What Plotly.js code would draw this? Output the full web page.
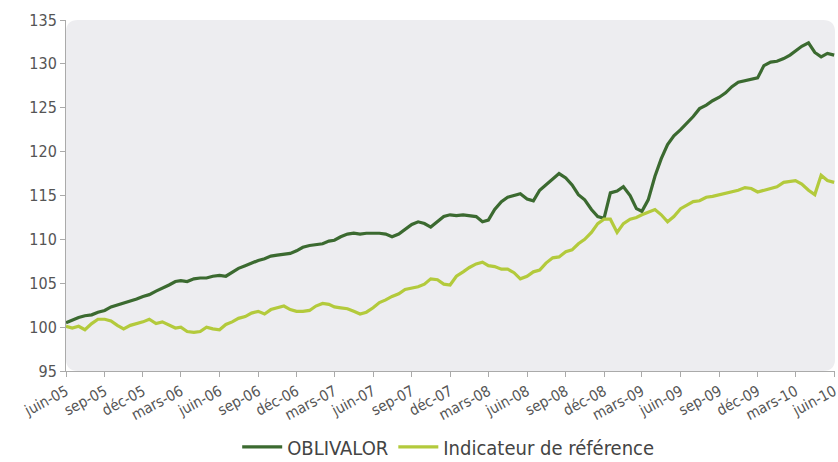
<!DOCTYPE html>
<html>
<head>
<meta charset="utf-8">
<script src="https://cdn.plot.ly/plotly-3.0.1.min.js"></script>
<style>html,body{margin:0;padding:0;background:#fff;overflow:hidden;width:838px;height:462px;}#chart{width:838px;height:480px;}</style>
</head>
<body>
<div id="chart"></div>
<script>
// Half-monthly observations, June 2005 to June 2010
const oblivalor = [
100.5,100.8,101.1,101.3,101.4,101.7,101.9,102.3,102.5,102.7,
103.0,103.2,103.5,103.7,104.1,104.4,104.8,105.2,105.3,105.2,
105.5,105.6,105.6,105.8,105.9,105.8,106.2,106.7,107.0,107.3,
107.6,107.8,108.1,108.2,108.3,108.4,108.7,109.1,109.3,109.4,
109.5,109.8,109.9,110.3,110.6,110.7,110.6,110.7,110.7,110.7,
110.6,110.3,110.6,111.1,111.7,112.0,111.8,111.4,112.0,112.6,
112.8,112.7,112.8,112.7,112.6,112.0,112.2,113.4,114.3,114.8,
115.0,115.2,114.6,114.4,115.6,116.2,116.8,117.5,117.0,116.2,
115.1,114.5,113.4,112.6,112.4,115.3,115.5,116.0,115.0,113.5,
113.2,114.5,117.2,119.2,120.8,121.8,122.5,123.2,124.0,124.9,
125.3,125.8,126.2,126.7,127.4,127.9,128.1,128.3,128.4,129.8,
130.2,130.3,130.6,131.0,131.5,132.0,132.4,131.3,130.8,131.2,
131.0];
const indicateur = [
100.1,99.9,100.1,99.7,100.4,100.9,100.9,100.7,100.2,99.8,
100.2,100.4,100.6,100.9,100.4,100.6,100.2,99.9,100.0,99.5,
99.4,99.5,100.0,99.8,99.7,100.3,100.6,101.0,101.2,101.6,
101.8,101.5,102.0,102.2,102.4,102.0,101.8,101.8,101.9,102.4,
102.7,102.6,102.3,102.2,102.1,101.8,101.5,101.7,102.2,102.8,
103.1,103.5,103.8,104.3,104.5,104.6,104.9,105.5,105.4,104.9,
104.8,105.8,106.3,106.8,107.2,107.4,107.0,106.9,106.6,106.6,
106.2,105.5,105.8,106.3,106.5,107.3,107.9,108.0,108.6,108.8,
109.5,110.0,110.8,111.8,112.3,112.3,110.8,111.8,112.3,112.5,
112.8,113.1,113.4,112.8,112.0,112.6,113.5,113.9,114.3,114.4,
114.8,114.9,115.1,115.3,115.5,115.6,115.9,115.8,115.4,115.6,
115.8,116.0,116.5,116.6,116.7,116.3,115.6,115.1,117.3,116.7,
116.5];
const tickLabels = ["juin-05","sep-05","déc-05","mars-06","juin-06","sep-06","déc-06","mars-07","juin-07","sep-07","déc-07","mars-08","juin-08","sep-08","déc-08","mars-09","juin-09","sep-09","déc-09","mars-10","juin-10"];
const tickDates = ["2005-06-01","2005-09-01","2005-12-01","2006-03-01","2006-06-01","2006-09-01","2006-12-01","2007-03-01","2007-06-01","2007-09-01","2007-12-01","2008-03-01","2008-06-01","2008-09-01","2008-12-01","2009-03-01","2009-06-01","2009-09-01","2009-12-01","2010-03-01","2010-06-01"];
const yTicks = [95,100,105,110,115,120,125,130,135];
const seriesNames = ["OBLIVALOR","Indicateur de référence"];

// date grid: 1st and 16th of each month
const dates = [];
for (let i = 0; i < oblivalor.length; i++) {
  const m = Math.floor(i / 2);
  const y = 2005 + Math.floor((5 + m) / 12);
  const mo = ((5 + m) % 12) + 1;
  const d = (i % 2 === 0) ? "01" : "16";
  dates.push(y + "-" + String(mo).padStart(2, "0") + "-" + d);
}

const fontFam = "'DejaVu Sans Condensed', 'Liberation Sans Narrow', sans-serif";
const traces = [
  {x: dates, y: oblivalor, name: seriesNames[0], type: "scatter", mode: "lines",
   line: {color: "#3b6a30", width: 3.2}},
  {x: dates, y: indicateur, name: seriesNames[1], type: "scatter", mode: "lines",
   line: {color: "#b3ca3c", width: 3.2}}
];
// rounded plot background (paper units; radius ~12px)
const rx = 12 / 769, ry = 12 / 351;
const bgPath = "M " + rx + " 0 L " + (1 - rx) + " 0 Q 1 0 1 " + ry + " L 1 " + (1 - ry) +
  " Q 1 1 " + (1 - rx) + " 1 L " + rx + " 1 Q 0 1 0 " + (1 - ry) + " L 0 " + ry + " Q 0 0 " + rx + " 0 Z";
const layout = {
  width: 838, height: 480,
  margin: {l: 66, r: 3, t: 20, b: 109},
  paper_bgcolor: "#ffffff",
  plot_bgcolor: "rgba(0,0,0,0)",
  font: {family: fontFam, color: "#555555", size: 15},
  showlegend: true,
  legend: {orientation: "h", x: 0.497, xanchor: "center", y: -0.272, yanchor: "bottom",
           font: {size: 20, color: "#444444"}, itemwidth: 40},
  shapes: [{type: "path", xref: "paper", yref: "paper", path: bgPath,
            fillcolor: "#ededf0", line: {width: 0}, layer: "below"}],
  xaxis: {
    type: "date", range: ["2005-06-01", "2010-06-03"],
    tickmode: "array", tickvals: tickDates, ticktext: tickLabels,
    tickangle: -28, tickfont: {size: 15, color: "#555555"},
    ticklabeloverflow: "allow", automargin: false,
    ticks: "outside", ticklen: 5, tickcolor: "#aaaaaa",
    showgrid: false, zeroline: false,
    showline: true, linecolor: "#aaaaaa", linewidth: 1
  },
  yaxis: {
    range: [95, 135], tickmode: "array", tickvals: yTicks,
    tickfont: {size: 16, color: "#555555"}, automargin: false,
    ticks: "outside", ticklen: 5, tickcolor: "#aaaaaa",
    showgrid: false, zeroline: false,
    showline: true, linecolor: "#aaaaaa", linewidth: 1
  }
};
Plotly.newPlot("chart", traces, layout, {displayModeBar: false, staticPlot: true});
</script>
</body>
</html>
